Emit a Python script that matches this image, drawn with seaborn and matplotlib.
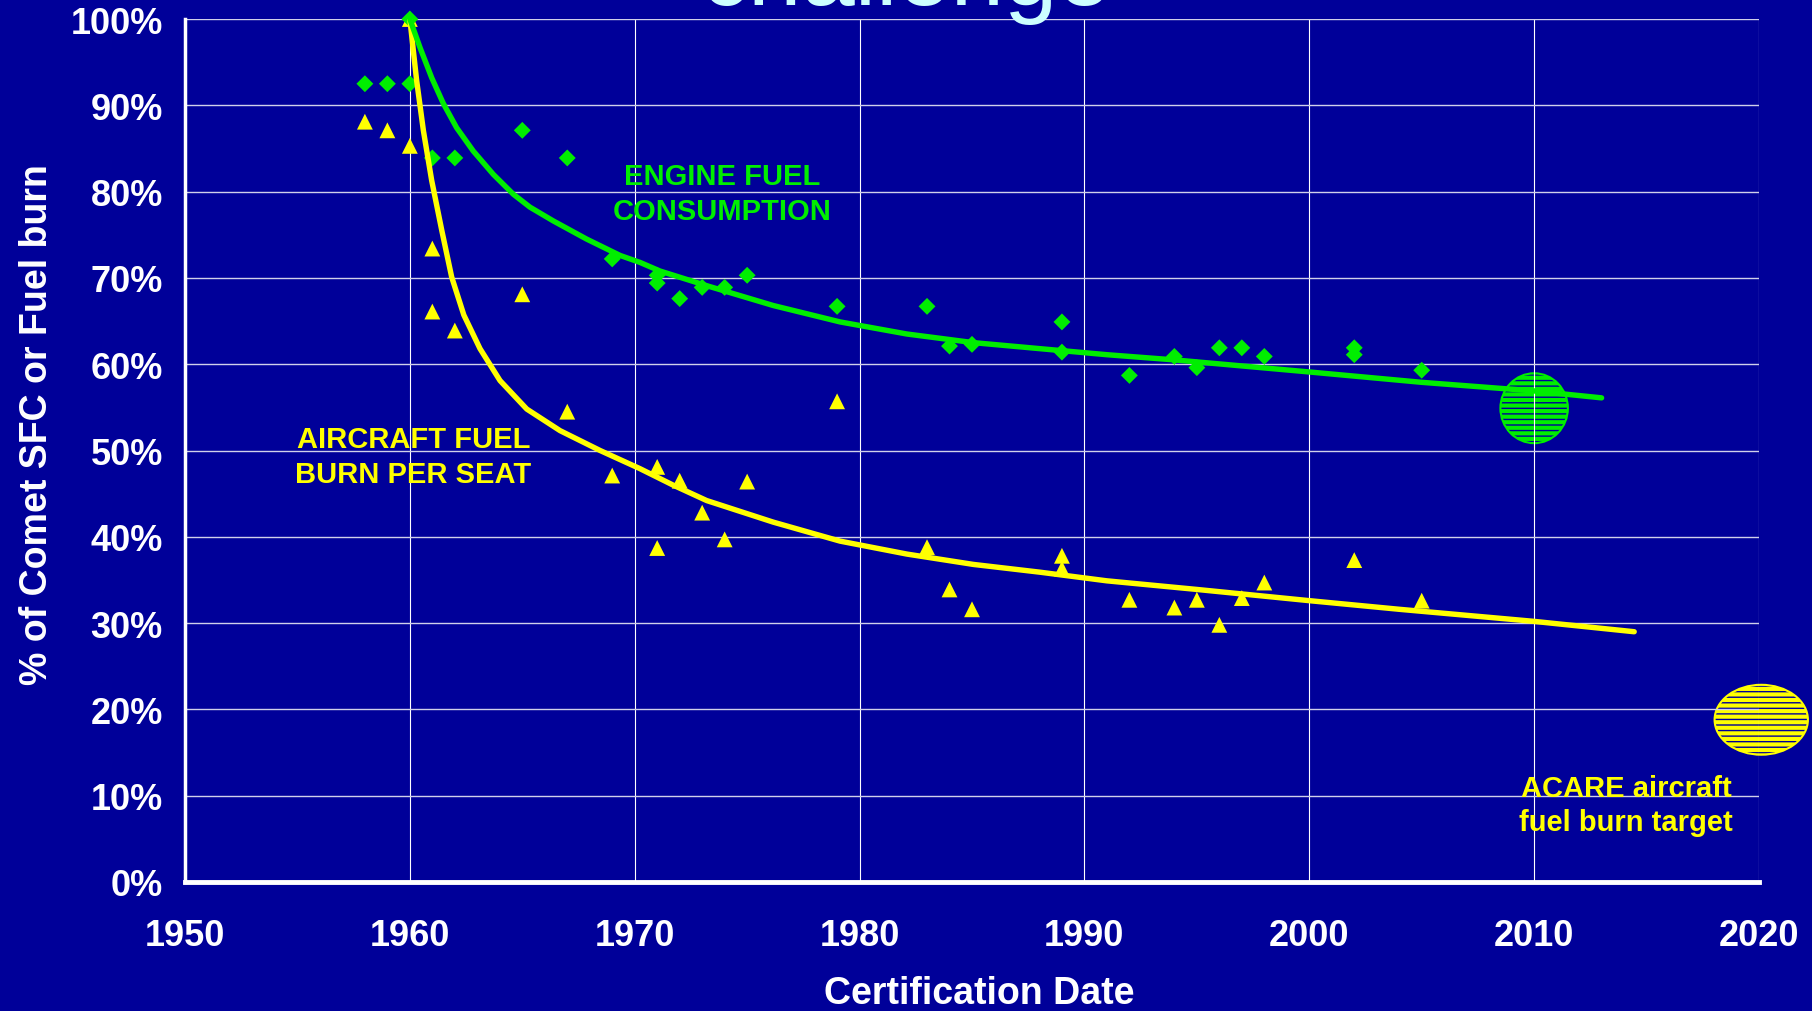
import matplotlib
matplotlib.use("Agg")
import matplotlib.pyplot as plt
from matplotlib.patches import Ellipse
from matplotlib.ticker import FuncFormatter
import seaborn as sns

# Engine specific fuel consumption, % of Comet (certification year, value)
engine_years = [1958, 1959, 1960, 1960, 1961, 1962, 1965, 1967, 1969, 1971,
                1971, 1972, 1973, 1974, 1975, 1979, 1983, 1984, 1985, 1989,
                1989, 1992, 1994, 1995, 1996, 1997, 1998, 2002, 2002, 2005]
engine_pct = [92.5, 92.5, 92.5, 100.0, 83.9, 83.9, 87.1, 83.9, 72.2, 70.3,
              69.4, 67.6, 68.9, 68.9, 70.3, 66.7, 66.7, 62.1, 62.3, 64.9,
              61.4, 58.7, 60.9, 59.6, 61.9, 61.9, 60.9, 61.9, 61.1, 59.3]

# Aircraft fuel burn per seat, % of Comet
aircraft_years = [1958, 1959, 1960, 1960, 1961, 1961, 1962, 1965, 1967, 1969,
                  1971, 1971, 1972, 1973, 1974, 1975, 1979, 1983, 1984, 1985,
                  1989, 1989, 1992, 1994, 1995, 1996, 1997, 1998, 2002, 2005]
aircraft_pct = [88.1, 87.1, 85.3, 100.0, 73.4, 66.1, 63.9, 68.1, 54.5, 47.1,
                48.1, 38.7, 46.5, 42.8, 39.7, 46.4, 55.7, 38.8, 33.9, 31.6,
                37.8, 36.3, 32.7, 31.8, 32.7, 29.8, 32.9, 34.7, 37.3, 32.6]

# Trend curves
engine_trend_years = [1960.0, 1960.45, 1960.97, 1961.49, 1962.08, 1962.82,
                      1963.71, 1964.60, 1965.34, 1966.38, 1967.86, 1969.35,
                      1970.23, 1971.12, 1973.20, 1976.16, 1979.13, 1982.10,
                      1985.06, 1988.02, 1991.0, 1994.0, 1997.0, 2000.0,
                      2005.0, 2010.0, 2013.0]
engine_trend_pct = [100.0, 96.7, 93.2, 90.2, 87.4, 84.7,
                    82.0, 79.7, 78.2, 76.6, 74.5, 72.6,
                    71.8, 70.8, 69.1, 66.8, 64.9, 63.5,
                    62.5, 61.8, 61.1, 60.5, 59.8, 59.1,
                    57.9, 56.9, 56.1]

aircraft_trend_years = [1960.0, 1960.30, 1960.60, 1960.97, 1961.42, 1961.86,
                        1962.40, 1963.12, 1964.01, 1965.20, 1966.68, 1968.46,
                        1970.23, 1971.70, 1973.20, 1976.16, 1979.13, 1982.10,
                        1985.06, 1988.02, 1990.99, 1995.0, 2000.0, 2004.0,
                        2010.0, 2014.45]
aircraft_trend_pct = [100.0, 92.9, 87.1, 81.3, 75.5, 70.1,
                      65.7, 61.8, 58.1, 54.8, 52.3, 50.0,
                      47.9, 46.0, 44.2, 41.7, 39.5, 38.0,
                      36.8, 35.9, 34.9, 33.9, 32.6, 31.6,
                      30.2, 29.0]

# Targets: (year, %)
engine_target = (2010, 54.9)
acare_target = (2020.1, 18.8)

x_ticks = [1950, 1960, 1970, 1980, 1990, 2000, 2010, 2020]
y_ticks = [0, 10, 20, 30, 40, 50, 60, 70, 80, 90, 100]

BG = "#000099"
GREEN = "#00EE00"
YELLOW = "#FFFF00"
WHITE = "#FFFFFF"

sns.set_style("white", {"axes.facecolor": BG, "figure.facecolor": BG})
plt.rcParams["font.family"] = ["Liberation Sans", "DejaVu Sans"]
plt.rcParams["font.weight"] = "bold"
plt.rcParams["hatch.linewidth"] = 1.0

fig = plt.figure(figsize=(18.12, 10.12), dpi=100, facecolor=BG)
ax = fig.add_axes([185 / 1812, 129 / 1012, 1574 / 1812, 863 / 1012])
ax.set_facecolor(BG)

# Target markers (hatched ellipses)
for (cx, cy), w, h, col in [(engine_target, 3.0, 8.1, GREEN),
                            (acare_target, 4.15, 8.1, YELLOW)]:
    ax.add_patch(Ellipse((cx, cy), w, h, facecolor=col, edgecolor=BG,
                         hatch="---", linewidth=0, zorder=0.3, clip_on=False))
    ax.add_patch(Ellipse((cx, cy), w, h, facecolor="none", edgecolor=col,
                         linewidth=1.5, zorder=0.35, clip_on=False))

# Scatter points
sns.scatterplot(x=engine_years, y=engine_pct, marker="D", s=74, color=GREEN,
                edgecolor="none", ax=ax, zorder=3, clip_on=False)
sns.scatterplot(x=aircraft_years, y=aircraft_pct, marker="^", s=130,
                color=YELLOW, edgecolor="none", ax=ax, zorder=2.9,
                clip_on=False)

# Trend lines
sns.lineplot(x=aircraft_trend_years, y=aircraft_trend_pct, sort=False,
             estimator=None, color=YELLOW, linewidth=3.9, ax=ax, zorder=4)
sns.lineplot(x=engine_trend_years, y=engine_trend_pct, sort=False,
             estimator=None, color=GREEN, linewidth=3.9, ax=ax, zorder=4.1)
for ln in ax.get_lines():
    ln.set_solid_joinstyle("round")

ax.set_xlim(1950, 2020)
ax.set_ylim(0, 100)
ax.set_xticks(x_ticks)
ax.set_yticks(y_ticks)
ax.yaxis.set_major_formatter(FuncFormatter(lambda v, _: f"{v:.0f}%"))

ax.set_axisbelow(True)
ax.xaxis.grid(True, color=WHITE, linewidth=0.8)
ax.yaxis.grid(True, color="#D0D0EA", linewidth=1.0)

for side in ["top", "right"]:
    ax.spines[side].set_visible(False)
ax.spines["left"].set_color(WHITE)
ax.spines["left"].set_linewidth(2.5)
ax.spines["bottom"].set_color(WHITE)
ax.spines["bottom"].set_linewidth(3.5)

ax.tick_params(axis="both", direction="out", colors=WHITE, width=2,
               length=7, labelsize=26, labelcolor=WHITE)
ax.tick_params(axis="x", pad=19)
ax.tick_params(axis="y", pad=9)
for lab in ax.get_xticklabels() + ax.get_yticklabels():
    lab.set_fontweight("bold")

ax.set_xlabel("Certification Date", fontsize=27, fontweight="bold",
              color=WHITE, va="center")
ax.xaxis.set_label_coords(0.5045, -0.129)
ax.set_ylabel("% of Comet SFC or Fuel burn", fontsize=27, fontweight="bold",
              color=WHITE, va="center")
ax.yaxis.set_label_coords(-0.094, 0.531)

# Annotations
ax.text(1973.9, 79.8, "ENGINE FUEL\nCONSUMPTION", color=GREEN, fontsize=21,
        fontweight="bold", ha="center", va="center", linespacing=1.3)
ax.text(1960.16, 49.3, "AIRCRAFT FUEL\nBURN PER SEAT", color=YELLOW,
        fontsize=21, fontweight="bold", ha="center", va="center",
        linespacing=1.3)
ax.text(2014.1, 8.9, "ACARE aircraft\nfuel burn target", color=YELLOW,
        fontsize=21, fontweight="bold", ha="center", va="center",
        linespacing=1.3)

# Slide title, running off the top edge
fig.text(0.5, 0.995, "challenge", color="#CCFFFF", fontsize=69,
         fontweight="normal", ha="center", va="baseline")

fig.savefig("out.png", dpi=100, facecolor=BG)
